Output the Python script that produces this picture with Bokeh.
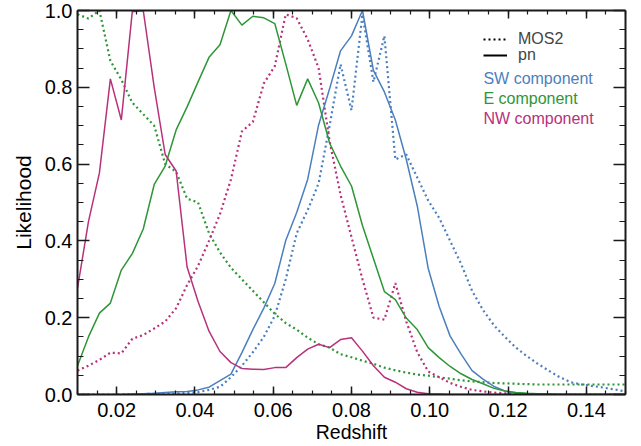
from bokeh.plotting import figure
from bokeh.models import (Range1d, LinearAxis, FixedTicker, Legend, LegendItem,
                          Label, CustomJSTickFormatter)
from bokeh.embed import file_html
from bokeh.resources import INLINE

# ---------------- data ----------------
redshift = [0.0100, 0.0128, 0.0156, 0.0184, 0.0212, 0.0240, 0.0268, 0.0296, 0.0324, 0.0352,
            0.0380, 0.0408, 0.0436, 0.0464, 0.0492, 0.0520, 0.0548, 0.0576, 0.0604, 0.0632,
            0.0660, 0.0688, 0.0716, 0.0744, 0.0772, 0.0800, 0.0828, 0.0856, 0.0884, 0.0912,
            0.0940, 0.0968, 0.0996, 0.1024, 0.1052, 0.1080, 0.1108, 0.1136, 0.1164, 0.1192,
            0.1220, 0.1248, 0.1276, 0.1304, 0.1332, 0.1360, 0.1388, 0.1416, 0.1444, 0.1472,
            0.1500]

sw_pn = [0.000, 0.000, 0.000, 0.000, 0.000, 0.001, 0.002, 0.003, 0.005, 0.007,
         0.008, 0.012, 0.019, 0.036, 0.053, 0.109, 0.169, 0.225, 0.289, 0.401,
         0.474, 0.560, 0.702, 0.796, 0.895, 0.934, 1.000, 0.844, 0.788, 0.715,
         0.612, 0.491, 0.328, 0.229, 0.152, 0.105, 0.062, 0.040, 0.021, 0.009,
         0.004, 0.002, 0.001, 0.000, 0.000, 0.000, 0.000, 0.000, 0.000, 0.000,
         0.000]
e_pn = [0.075, 0.150, 0.212, 0.238, 0.324, 0.367, 0.431, 0.547, 0.595, 0.689,
        0.749, 0.814, 0.878, 0.911, 1.000, 0.962, 0.985, 0.981, 0.966, 0.861,
        0.753, 0.822, 0.759, 0.655, 0.595, 0.543, 0.440, 0.354, 0.268, 0.247,
        0.199, 0.169, 0.122, 0.096, 0.073, 0.054, 0.039, 0.028, 0.016, 0.009,
        0.005, 0.003, 0.002, 0.001, 0.000, 0.000, 0.000, 0.000, 0.000, 0.000,
        0.000]
nw_pn = [0.277, 0.450, 0.577, 0.822, 0.715, 0.997, 1.000, 0.800, 0.625, 0.582,
         0.332, 0.242, 0.165, 0.112, 0.083, 0.068, 0.066, 0.065, 0.070, 0.070,
         0.096, 0.118, 0.131, 0.122, 0.143, 0.148, 0.113, 0.075, 0.045, 0.032,
         0.015, 0.006, 0.002, 0.001, 0.000, 0.000, 0.000, 0.000, 0.000, 0.000,
         0.000, 0.000, 0.000, 0.000, 0.000, 0.000, 0.000, 0.000, 0.000, 0.000,
         0.000]
sw_mos2 = [0.000, 0.000, 0.000, 0.000, 0.000, 0.001, 0.001, 0.002, 0.002, 0.003,
           0.004, 0.006, 0.012, 0.020, 0.045, 0.075, 0.110, 0.150, 0.205, 0.300,
           0.420, 0.480, 0.550, 0.700, 0.860, 0.740, 0.990, 0.814, 0.934, 0.612,
           0.625, 0.565, 0.505, 0.460, 0.400, 0.340, 0.270, 0.220, 0.180, 0.150,
           0.122, 0.100, 0.080, 0.062, 0.045, 0.032, 0.026, 0.022, 0.018, 0.013,
           0.008]
e_mos2 = [0.990, 0.979, 1.000, 0.869, 0.820, 0.760, 0.730, 0.700, 0.600, 0.580,
          0.510, 0.500, 0.420, 0.370, 0.330, 0.300, 0.270, 0.240, 0.210, 0.186,
          0.169, 0.148, 0.131, 0.122, 0.105, 0.097, 0.088, 0.080, 0.070, 0.063,
          0.057, 0.052, 0.049, 0.045, 0.041, 0.037, 0.034, 0.032, 0.030, 0.029,
          0.028, 0.027, 0.026, 0.026, 0.026, 0.026, 0.026, 0.026, 0.026, 0.026,
          0.026]
nw_mos2 = [0.062, 0.075, 0.090, 0.109, 0.107, 0.145, 0.155, 0.172, 0.190, 0.225,
           0.285, 0.335, 0.400, 0.470, 0.560, 0.685, 0.710, 0.810, 0.855, 0.990,
           0.980, 0.925, 0.850, 0.660, 0.520, 0.410, 0.300, 0.200, 0.195, 0.290,
           0.190, 0.110, 0.060, 0.045, 0.030, 0.020, 0.012, 0.008, 0.005, 0.003,
           0.002, 0.001, 0.000, 0.000, 0.000, 0.000, 0.000, 0.000, 0.000, 0.000,
           0.000]

x_major = [0.02, 0.04, 0.06, 0.08, 0.10, 0.12, 0.14]
x_labels = ["0.02", "0.04", "0.06", "0.08", "0.10", "0.12", "0.14"]
x_minor = [0.010, 0.015, 0.020, 0.025, 0.030, 0.035, 0.040, 0.045, 0.050, 0.055,
           0.060, 0.065, 0.070, 0.075, 0.080, 0.085, 0.090, 0.095, 0.100, 0.105,
           0.110, 0.115, 0.120, 0.125, 0.130, 0.135, 0.140, 0.145, 0.150]
y_major = [0.0, 0.2, 0.4, 0.6, 0.8, 1.0]
y_labels = ["0.0", "0.2", "0.4", "0.6", "0.8", "1.0"]
y_minor = [0.00, 0.05, 0.10, 0.15, 0.20, 0.25, 0.30, 0.35, 0.40, 0.45, 0.50,
           0.55, 0.60, 0.65, 0.70, 0.75, 0.80, 0.85, 0.90, 0.95, 1.00]

components = ["SW component", "E component", "NW component"]
colors = ["#4b7fbe", "#2e9636", "#b8317c"]
style_labels = ["MOS2", "pn"]

FONT = "Liberation Sans"
AX = "#1a1a1a"

p = figure(frame_width=548, frame_height=384,
           x_range=Range1d(0.01, 0.15), y_range=Range1d(0.0, 1.0),
           output_backend="svg", toolbar_location=None,
           min_border_left=77, min_border_top=10, min_border_right=8, min_border_bottom=0,
           x_axis_label="Redshift", y_axis_label="Likelihood")
p.margin = (0, 0, -14, 0)
p.grid.visible = False
p.outline_line_color = None
p.background_fill_color = "white"
p.border_fill_color = "white"

top = LinearAxis()
right = LinearAxis()
p.add_layout(top, "above")
p.add_layout(right, "right")

xt = FixedTicker(ticks=x_major, minor_ticks=x_minor)
yt = FixedTicker(ticks=y_major, minor_ticks=y_minor)

for ax in [p.below[0], top]:
    ax.ticker = xt
    ax.major_tick_in = 8
    ax.major_tick_out = 0
    ax.minor_tick_in = 4
    ax.minor_tick_out = 0
for ax in [p.left[0], right]:
    ax.ticker = yt
    ax.major_tick_in = 12
    ax.major_tick_out = 0
    ax.minor_tick_in = 6
    ax.minor_tick_out = 0
for ax in [p.below[0], top, p.left[0], right]:
    ax.axis_line_color = AX
    ax.axis_line_width = 2
    ax.major_tick_line_color = AX
    ax.major_tick_line_width = 1.5
    ax.minor_tick_line_color = AX
    ax.minor_tick_line_width = 1.2
    ax.major_label_text_font = FONT
    ax.major_label_text_color = "black"
    ax.axis_label_text_font = FONT
    ax.axis_label_text_font_style = "normal"
    ax.axis_label_text_color = "black"

blank = CustomJSTickFormatter(code="return ''")
for ax in [top, right]:
    ax.formatter = blank
    ax.major_label_text_font_size = "6px"
    ax.major_label_standoff = 0
    ax.axis_label = None

xa = p.below[0]
xa.major_label_overrides = {v: s for v, s in zip(x_major, x_labels)}
xa.major_label_text_font_size = "20px"
xa.major_label_standoff = 8
xa.axis_label_text_font_size = "19.5px"
xa.axis_label_standoff = 1

ya = p.left[0]
ya.major_label_overrides = {v: s for v, s in zip(y_major, y_labels)}
ya.major_label_text_font_size = "20px"
ya.major_label_standoff = 5
ya.axis_label_text_font_size = "21px"
ya.axis_label_standoff = 7

mos2_series = [sw_mos2, e_mos2, nw_mos2]
pn_series = [sw_pn, e_pn, nw_pn]
for ys, c in zip(mos2_series, colors):
    p.line(redshift, ys, line_color=c, line_width=2.2, line_dash="2 3")
for ys, c in zip(pn_series, colors):
    p.line(redshift, ys, line_color=c, line_width=1.5)

# legends for the line styles (one per row)
nan = float("nan")
r_dot = p.line(x=[nan, nan], y=[nan, nan], line_color="black", line_width=2, line_dash="2 3")
r_sol = p.line(x=[nan, nan], y=[nan, nan], line_color="black", line_width=2)
for lab, r, ly in zip(style_labels, [r_dot, r_sol], [346, 330]):
    leg = Legend(items=[LegendItem(label=lab, renderers=[r])],
                 location=(406, ly), padding=0, margin=0, spacing=0,
                 glyph_width=24, glyph_height=16, label_height=16, label_standoff=11,
                 label_text_font=FONT, label_text_font_size="16px",
                 border_line_color=None, background_fill_alpha=0)
    p.add_layout(leg)

# coloured component labels
for name, c, yy in zip(components, colors, [0.822, 0.771, 0.719]):
    p.add_layout(Label(x=0.1137, y=yy, text=name, text_baseline="middle",
                       text_font=FONT, text_font_size="16px", text_color=c))

open("out.html", "w").write(file_html(p, INLINE))
